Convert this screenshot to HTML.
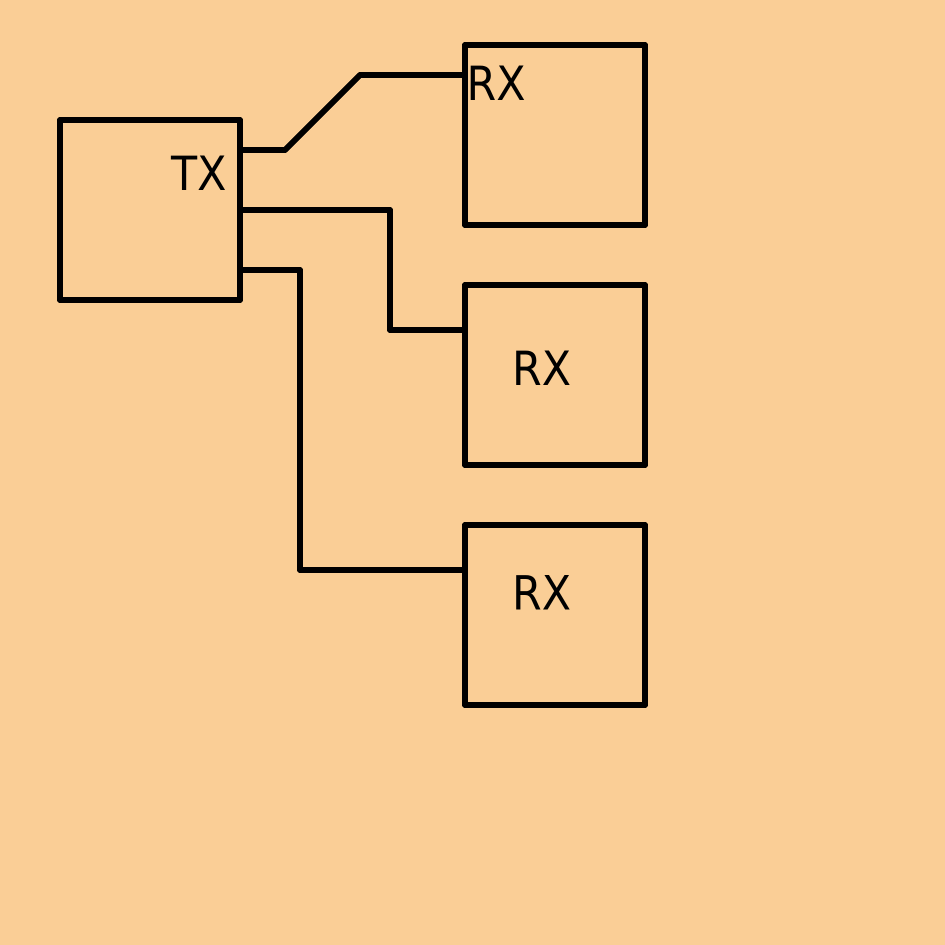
<!DOCTYPE html>
<html>
<head>
<meta charset="utf-8">
<style>
html,body{margin:0;padding:0;background:#face96;}
svg{display:block;}
text{font-family:"DejaVu Sans",sans-serif;font-size:47px;fill:#000;}
</style>
</head>
<body>
<svg width="945" height="945" viewBox="0 0 945 945" xmlns="http://www.w3.org/2000/svg">
<rect width="945" height="945" fill="#face96"/>
<g fill="none" stroke="#000" stroke-width="6" stroke-linejoin="round" stroke-linecap="round" shape-rendering="crispEdges">
<rect x="60" y="120" width="180" height="180"/>
<rect x="465" y="45" width="180" height="180"/>
<rect x="465" y="285" width="180" height="180"/>
<rect x="465" y="525" width="180" height="180"/>
<polyline points="240,150 285,150 360,75 465,75"/>
<polyline points="240,210 390,210 390,330 465,330"/>
<polyline points="240,270 300,270 300,570 465,570"/>
</g>
<text transform="translate(171,190) scale(0.91,1)">TX</text>
<text transform="translate(466.5,100) scale(0.91,1)">RX</text>
<text transform="translate(512,385) scale(0.91,1)">RX</text>
<text transform="translate(512,609.5) scale(0.91,1)">RX</text>
</svg>
</body>
</html>
